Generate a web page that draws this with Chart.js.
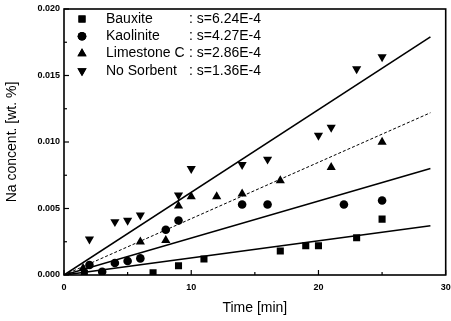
<!DOCTYPE html>
<html>
<head>
<meta charset="utf-8">
<script src="https://cdn.jsdelivr.net/npm/chart.js@4/dist/chart.umd.min.js"></script>
<style>
html,body{margin:0;padding:0;background:#fff;}
#wrap{width:451px;height:321px;position:relative;}
</style>
</head>
<body>
<div id="wrap"><canvas id="c" width="451" height="321"></canvas></div>
<script>
// ---- data ----
const seriesNames = ["Bauxite", "Kaolinite", "Limestone C", "No Sorbent"];
const slopeLabels = [": s=6.24E-4", ": s=4.27E-4", ": s=2.86E-4", ": s=1.36E-4"];

const bauxiteT = [1.6, 7, 9, 11, 17, 19, 20, 23, 25];
const bauxiteY = [0.00015, 0.00017, 0.0007, 0.0012, 0.0018, 0.0022, 0.0022, 0.0028, 0.0042];

const kaoliniteT = [2, 3, 4, 5, 6, 8, 9, 14, 16, 22, 25];
const kaoliniteY = [0.00075, 0.00025, 0.0009, 0.00105, 0.00125, 0.0034, 0.0041, 0.0053, 0.0053, 0.0053, 0.0056];

const limestoneT = [1.5, 6, 8, 9, 10, 12, 14, 17, 21, 25];
const limestoneY = [0.0005, 0.0025, 0.0026, 0.0052, 0.0059, 0.0059, 0.0061, 0.0071, 0.0081, 0.0100];

const noSorbentT = [2, 4, 5, 6, 9, 10, 14, 16, 20, 21, 23, 25];
const noSorbentY = [0.0027, 0.0040, 0.0041, 0.0045, 0.0060, 0.0080, 0.0083, 0.0087, 0.0105, 0.0111, 0.0155, 0.0164];

// fitted lines: start at origin, end point
const fitEndT = 28.8;
const fitEndY = [0.0179, 0.0122, 0.0080, 0.0037];
const fitDash = [[], [3, 2], [], []];

const xTicks = [0, 10, 20, 30];
const yTicks = [0.000, 0.005, 0.010, 0.015, 0.020];

// ---- build ----
const toPts = (t, y) => t.map((v, i) => ({x: v, y: y[i]}));
const markerStyles = [
  {pointStyle: 'rect', radius: 5, rotation: 0},
  {pointStyle: 'circle', radius: 4.3, rotation: 0},
  {pointStyle: 'triangle', radius: 5.3, rotation: 0},
  {pointStyle: 'triangle', radius: 5.3, rotation: 180}
];
const seriesData = [toPts(bauxiteT, bauxiteY), toPts(kaoliniteT, kaoliniteY), toPts(limestoneT, limestoneY), toPts(noSorbentT, noSorbentY)];

const datasets = [];
seriesData.forEach((d, i) => {
  datasets.push({
    type: 'scatter', label: seriesNames[i], data: d,
    pointStyle: markerStyles[i].pointStyle, pointRadius: markerStyles[i].radius,
    rotation: markerStyles[i].rotation,
    backgroundColor: '#000', borderColor: '#000', borderWidth: 0
  });
});
fitEndY.forEach((ye, i) => {
  datasets.push({
    type: 'line', label: 'fit' + i, data: [{x: 0, y: 0}, {x: fitEndT, y: ye}],
    borderColor: '#000', borderWidth: i === 1 ? 1 : 1.6, borderDash: fitDash[i],
    pointRadius: 0, fill: false, tension: 0
  });
});

const FONT = "'Liberation Sans', Arial, sans-serif";

const framePlugin = {
  id: 'frame',
  afterDraw(chart) {
    const ctx = chart.ctx, a = chart.chartArea;
    const xs = chart.scales.x, ys = chart.scales.y;
    ctx.save();
    ctx.strokeStyle = '#000';
    ctx.lineWidth = 1.6;
    ctx.strokeRect(a.left, a.top, a.right - a.left, a.bottom - a.top);
    ctx.lineWidth = 1.2;
    // inward ticks
    for (let v = 0; v <= 30.0001; v += 5) {
      const px = xs.getPixelForValue(v);
      const len = (v % 10 === 0) ? 5 : 3;
      ctx.beginPath(); ctx.moveTo(px, a.bottom); ctx.lineTo(px, a.bottom - len); ctx.stroke();
    }
    for (let k = 0; k <= 8; k++) {
      const v = k * 0.0025;
      const py = ys.getPixelForValue(v);
      const len = (k % 2 === 0) ? 5 : 3;
      ctx.beginPath(); ctx.moveTo(a.left, py); ctx.lineTo(a.left + len, py); ctx.stroke();
    }
    // legend inside chart area
    ctx.font = "14px " + FONT;
    ctx.fillStyle = '#000';
    ctx.textBaseline = 'middle';
    for (let i = 0; i < 4; i++) {
      const y = a.top + 10 + i * 17.3;
      Chart.helpers.drawPoint(ctx, {pointStyle: markerStyles[i].pointStyle, radius: markerStyles[i].radius, rotation: markerStyles[i].rotation, borderWidth: 0}, a.left + 18, y);
      ctx.fill();
      ctx.fillText(seriesNames[i], a.left + 42, y);
      ctx.fillText(slopeLabels[i], a.left + 125, y);
    }
    ctx.restore();
  }
};

new Chart(document.getElementById('c'), {
  data: {datasets},
  options: {
    responsive: false, animation: false,
    layout: {padding: {top: 9, right: 4, left: 0, bottom: 0}},
    plugins: {legend: {display: false}, tooltip: {enabled: false}},
    scales: {
      x: {
        type: 'linear', min: 0, max: 30,
        afterBuildTicks: s => { s.ticks = xTicks.map(v => ({value: v})); },
        afterFit: s => { s.height = 46; s.paddingLeft = 0; s.paddingRight = 0; },
        grid: {display: false, drawTicks: false},
        border: {display: false},
        ticks: {color: '#000', font: {family: FONT, size: 9, weight: 'bold'}, padding: 7, maxRotation: 0, callback: v => String(v)},
        title: {display: true, text: 'Time [min]', color: '#000', font: {family: FONT, size: 14}, padding: {top: 2}}
      },
      y: {
        type: 'linear', min: 0, max: 0.02,
        afterBuildTicks: s => { s.ticks = yTicks.map(v => ({value: v})); },
        afterFit: s => { s.width = 64; s.paddingTop = 0; s.paddingBottom = 0; },
        grid: {display: false, drawTicks: false},
        border: {display: false},
        ticks: {color: '#000', font: {family: FONT, size: 9, weight: 'bold'}, padding: 4, callback: v => Number(v).toFixed(3)},
        title: {display: true, text: 'Na concent. [wt. %]', color: '#000', font: {family: FONT, size: 14}, padding: {bottom: 4}}
      }
    }
  },
  plugins: [framePlugin]
});
</script>
</body>
</html>
